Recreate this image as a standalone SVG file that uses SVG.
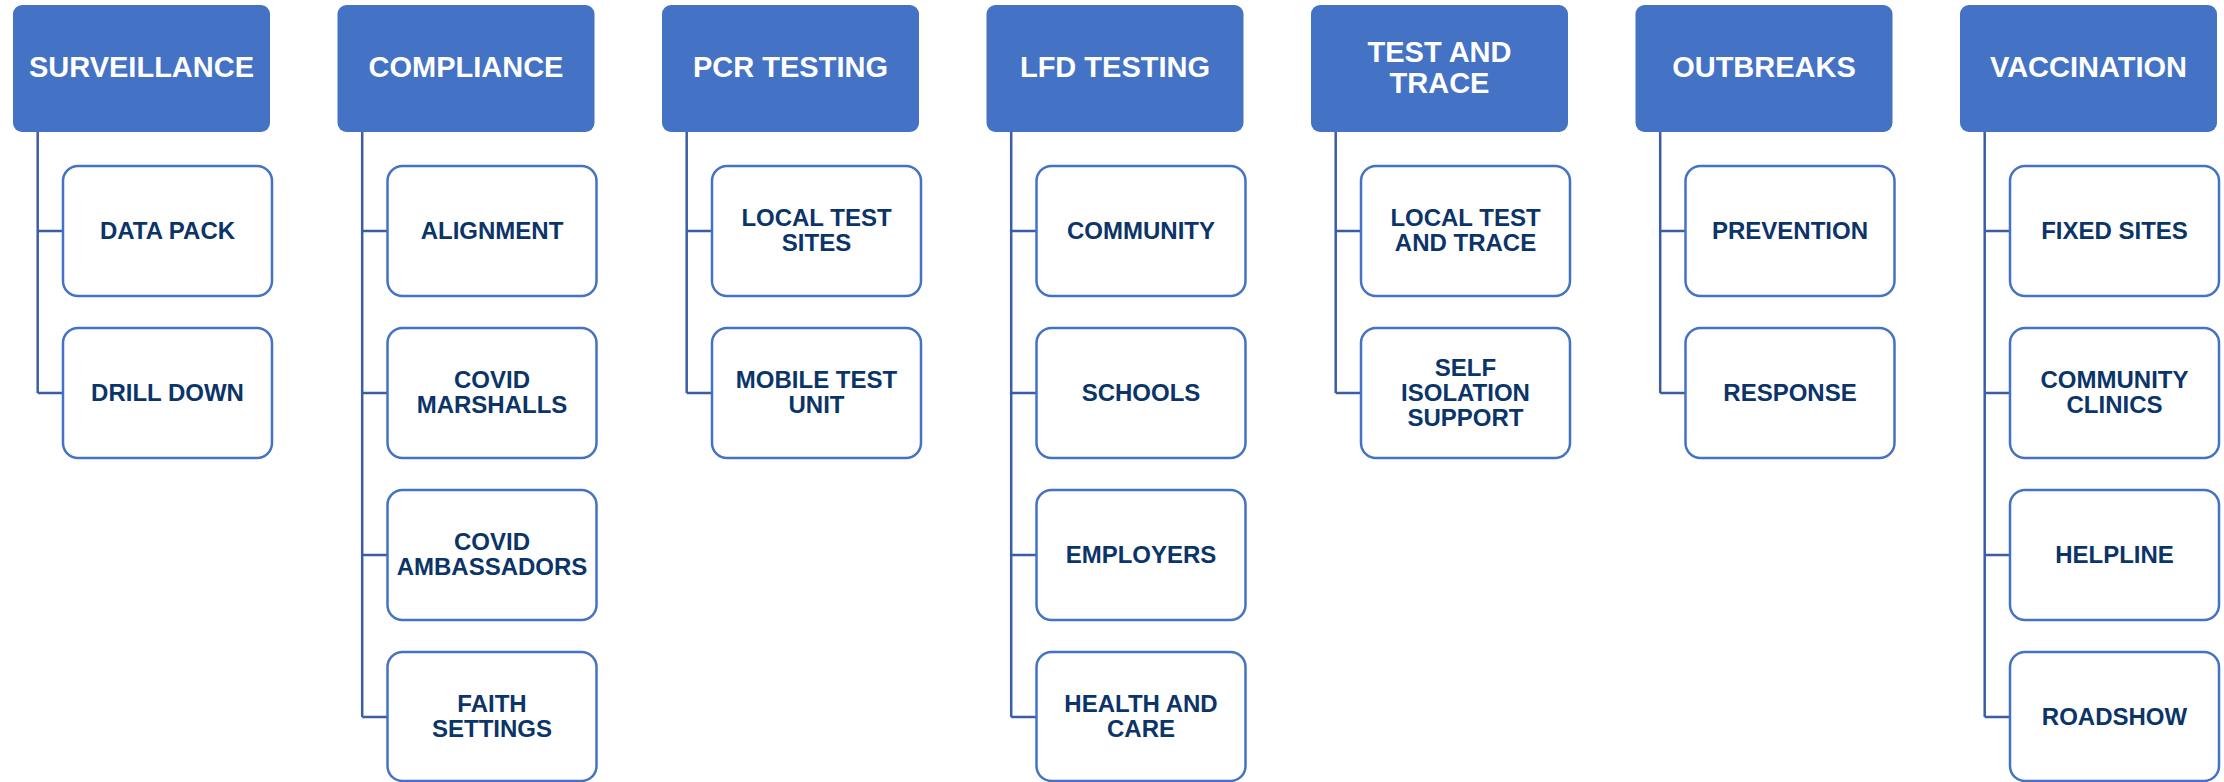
<svg xmlns="http://www.w3.org/2000/svg" width="2224" height="782" viewBox="0 0 2224 782">
<style>
.hd{fill:#4472C4;}
.ch{fill:#FFFFFF;stroke:#4472C4;stroke-width:2.5;}
.ht{font-family:"Liberation Sans",Arial,sans-serif;font-weight:bold;font-size:29px;fill:#FFFFFF;text-anchor:middle;}
.ct{font-family:"Liberation Sans",Arial,sans-serif;font-weight:bold;font-size:24px;fill:#0B3468;text-anchor:middle;}
.cn{fill:none;stroke:#3A5DA6;stroke-width:2.5;}
</style>
<rect width="2224" height="782" fill="#FFFFFF"/>
<g id="connectors">
<path class="cn" d="M37.7,132 V393 M37.7,231 H63 M37.7,393 H63"/>
<path class="cn" d="M362.2,132 V717 M362.2,231 H387.5 M362.2,393 H387.5 M362.2,555 H387.5 M362.2,717 H387.5"/>
<path class="cn" d="M686.7,132 V393 M686.7,231 H712 M686.7,393 H712"/>
<path class="cn" d="M1011.2,132 V717 M1011.2,231 H1036.5 M1011.2,393 H1036.5 M1011.2,555 H1036.5 M1011.2,717 H1036.5"/>
<path class="cn" d="M1335.7,132 V393 M1335.7,231 H1361 M1335.7,393 H1361"/>
<path class="cn" d="M1660.2,132 V393 M1660.2,231 H1685.5 M1660.2,393 H1685.5"/>
<path class="cn" d="M1984.7,132 V717 M1984.7,231 H2010 M1984.7,393 H2010 M1984.7,555 H2010 M1984.7,717 H2010"/>
</g>
<!-- Column 1 -->
<g id="surveillance"><rect class="hd" x="13" y="5" width="257" height="127" rx="9"/><text class="ht" x="141.5" y="77">SURVEILLANCE</text></g>
<g id="data-pack"><rect class="ch" x="63" y="166" width="209" height="130" rx="15"/><text class="ct" x="167.5" y="238.5">DATA PACK</text></g>
<g id="drill-down"><rect class="ch" x="63" y="328" width="209" height="130" rx="15"/><text class="ct" x="167.5" y="400.5">DRILL DOWN</text></g>
<!-- Column 2 -->
<g id="compliance"><rect class="hd" x="337.5" y="5" width="257" height="127" rx="9"/><text class="ht" x="466" y="77">COMPLIANCE</text></g>
<g id="alignment"><rect class="ch" x="387.5" y="166" width="209" height="130" rx="15"/><text class="ct" x="492" y="238.5">ALIGNMENT</text></g>
<g id="covid-marshalls"><rect class="ch" x="387.5" y="328" width="209" height="130" rx="15"/><text class="ct" x="492" y="388">COVID</text><text class="ct" x="492" y="413">MARSHALLS</text></g>
<g id="covid-ambassadors"><rect class="ch" x="387.5" y="490" width="209" height="130" rx="15"/><text class="ct" x="492" y="550">COVID</text><text class="ct" x="492" y="575">AMBASSADORS</text></g>
<g id="faith-settings"><rect class="ch" x="387.5" y="652" width="209" height="129" rx="15"/><text class="ct" x="492" y="712">FAITH</text><text class="ct" x="492" y="737">SETTINGS</text></g>
<!-- Column 3 -->
<g id="pcr-testing"><rect class="hd" x="662" y="5" width="257" height="127" rx="9"/><text class="ht" x="790.5" y="77">PCR TESTING</text></g>
<g id="local-test-sites"><rect class="ch" x="712" y="166" width="209" height="130" rx="15"/><text class="ct" x="816.5" y="226">LOCAL TEST</text><text class="ct" x="816.5" y="251">SITES</text></g>
<g id="mobile-test-unit"><rect class="ch" x="712" y="328" width="209" height="130" rx="15"/><text class="ct" x="816.5" y="388">MOBILE TEST</text><text class="ct" x="816.5" y="413">UNIT</text></g>
<!-- Column 4 -->
<g id="lfd-testing"><rect class="hd" x="986.5" y="5" width="257" height="127" rx="9"/><text class="ht" x="1115" y="77">LFD TESTING</text></g>
<g id="community"><rect class="ch" x="1036.5" y="166" width="209" height="130" rx="15"/><text class="ct" x="1141" y="238.5">COMMUNITY</text></g>
<g id="schools"><rect class="ch" x="1036.5" y="328" width="209" height="130" rx="15"/><text class="ct" x="1141" y="400.5">SCHOOLS</text></g>
<g id="employers"><rect class="ch" x="1036.5" y="490" width="209" height="130" rx="15"/><text class="ct" x="1141" y="562.5">EMPLOYERS</text></g>
<g id="health-and-care"><rect class="ch" x="1036.5" y="652" width="209" height="129" rx="15"/><text class="ct" x="1141" y="712">HEALTH AND</text><text class="ct" x="1141" y="737">CARE</text></g>
<!-- Column 5 -->
<g id="test-and-trace"><rect class="hd" x="1311" y="5" width="257" height="127" rx="9"/><text class="ht" x="1439.5" y="62">TEST AND</text><text class="ht" x="1439.5" y="93">TRACE</text></g>
<g id="local-test-and-trace"><rect class="ch" x="1361" y="166" width="209" height="130" rx="15"/><text class="ct" x="1465.5" y="226">LOCAL TEST</text><text class="ct" x="1465.5" y="251">AND TRACE</text></g>
<g id="self-isolation-support"><rect class="ch" x="1361" y="328" width="209" height="130" rx="15"/><text class="ct" x="1465.5" y="375.5">SELF</text><text class="ct" x="1465.5" y="400.5">ISOLATION</text><text class="ct" x="1465.5" y="425.5">SUPPORT</text></g>
<!-- Column 6 -->
<g id="outbreaks"><rect class="hd" x="1635.5" y="5" width="257" height="127" rx="9"/><text class="ht" x="1764" y="77">OUTBREAKS</text></g>
<g id="prevention"><rect class="ch" x="1685.5" y="166" width="209" height="130" rx="15"/><text class="ct" x="1790" y="238.5">PREVENTION</text></g>
<g id="response"><rect class="ch" x="1685.5" y="328" width="209" height="130" rx="15"/><text class="ct" x="1790" y="400.5">RESPONSE</text></g>
<!-- Column 7 -->
<g id="vaccination"><rect class="hd" x="1960" y="5" width="257" height="127" rx="9"/><text class="ht" x="2088.5" y="77">VACCINATION</text></g>
<g id="fixed-sites"><rect class="ch" x="2010" y="166" width="209" height="130" rx="15"/><text class="ct" x="2114.5" y="238.5">FIXED SITES</text></g>
<g id="community-clinics"><rect class="ch" x="2010" y="328" width="209" height="130" rx="15"/><text class="ct" x="2114.5" y="388">COMMUNITY</text><text class="ct" x="2114.5" y="413">CLINICS</text></g>
<g id="helpline"><rect class="ch" x="2010" y="490" width="209" height="130" rx="15"/><text class="ct" x="2114.5" y="562.5">HELPLINE</text></g>
<g id="roadshow"><rect class="ch" x="2010" y="652" width="209" height="129" rx="15"/><text class="ct" x="2114.5" y="724.5">ROADSHOW</text></g>
</svg>
